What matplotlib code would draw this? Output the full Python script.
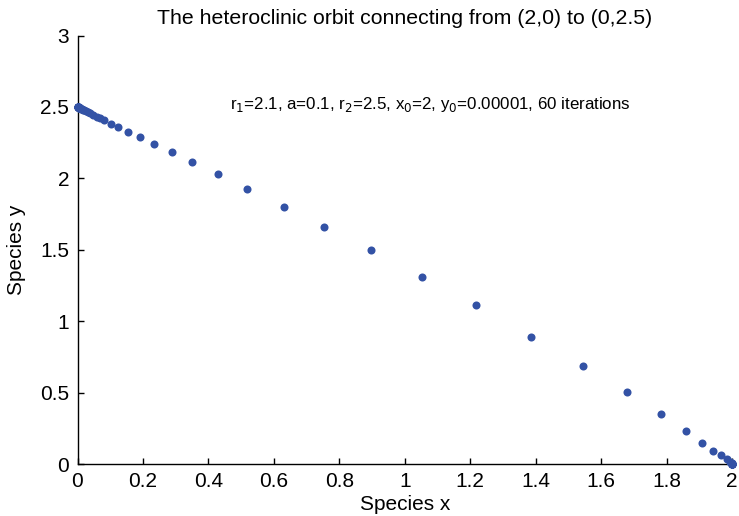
import matplotlib
matplotlib.use("Agg")
import matplotlib.pyplot as plt

plt.rcParams['font.family'] = ['Liberation Sans', 'DejaVu Sans']

species_x = [2.0, 2.0, 2.0, 2.0, 2.0, 2.0, 1.9999, 1.9998, 1.9996, 1.9992, 1.9984,
             1.994, 1.984, 1.965, 1.943, 1.909, 1.858, 1.784, 1.679, 1.545, 1.386,
             1.218, 1.053, 0.897, 0.753, 0.631, 0.519, 0.430, 0.350, 0.289, 0.234,
             0.191, 0.154, 0.125, 0.102, 0.082, 0.069, 0.059,
             0.048, 0.039, 0.032, 0.026, 0.021, 0.017, 0.014, 0.011, 0.009, 0.0073,
             0.0059, 0.0048, 0.0039, 0.0031, 0.0025, 0.0021, 0.0017, 0.0013, 0.0011,
             0.0009, 0.0007, 0.0006, 0.0005]
species_y = [0.00001, 0.00002, 0.00004, 0.00008, 0.00016, 0.0003, 0.0006, 0.0012, 0.0024, 0.0045, 0.0085,
             0.016, 0.033, 0.061, 0.093, 0.149, 0.231, 0.348, 0.501, 0.685, 0.888,
             1.112, 1.308, 1.497, 1.657, 1.797, 1.923, 2.028, 2.112, 2.182, 2.238,
             2.287, 2.327, 2.357, 2.382, 2.406, 2.420, 2.431,
             2.445, 2.455, 2.463, 2.470, 2.476, 2.480, 2.484, 2.487, 2.490, 2.492,
             2.493, 2.494, 2.495, 2.496, 2.497, 2.4976, 2.498, 2.4985, 2.4987,
             2.499, 2.4992, 2.4993, 2.4994]

x_ticks = [0, 0.2, 0.4, 0.6, 0.8, 1, 1.2, 1.4, 1.6, 1.8, 2]
x_tick_labels = ['0', '0.2', '0.4', '0.6', '0.8', '1', '1.2', '1.4', '1.6', '1.8', '2']
y_ticks = [0, 0.5, 1, 1.5, 2, 2.5, 3]
y_tick_labels = ['0', '0.5', '1', '1.5', '2', '2.5', '3']

fig = plt.figure(figsize=(7.39, 5.16), dpi=100)
ax = fig.add_axes([77.5 / 739, 52 / 516, (732 - 77.5) / 739, (464 - 35.5) / 516])

ax.plot(species_x, species_y, 'o', color='#3352A5', markersize=5.8,
        markeredgewidth=0, clip_on=False, zorder=3)

ax.set_xlim(0, 2)
ax.set_ylim(0, 3)
ax.set_xticks(x_ticks)
ax.set_xticklabels(x_tick_labels)
ax.set_yticks(y_ticks)
ax.set_yticklabels(y_tick_labels)
ax.tick_params(direction='in', length=4, width=1, labelsize=15, colors='black', pad=6)
for s in ['top', 'right']:
    ax.spines[s].set_visible(False)
for s in ['left', 'bottom']:
    ax.spines[s].set_linewidth(1)

ax.set_xlabel('Species x', fontsize=15, labelpad=3)
ax.set_ylabel('Species y', fontsize=15, labelpad=10)
ax.set_title('The heteroclinic orbit connecting from (2,0) to (0,2.5)', fontsize=15.3, pad=8)

ax.text(0.466, 2.52, r'r$_1$=2.1, a=0.1, r$_2$=2.5, x$_0$=2, y$_0$=0.00001, 60 iterations',
        fontsize=12.2, ha='left', va='center')

fig.savefig('out.png', dpi=100)
